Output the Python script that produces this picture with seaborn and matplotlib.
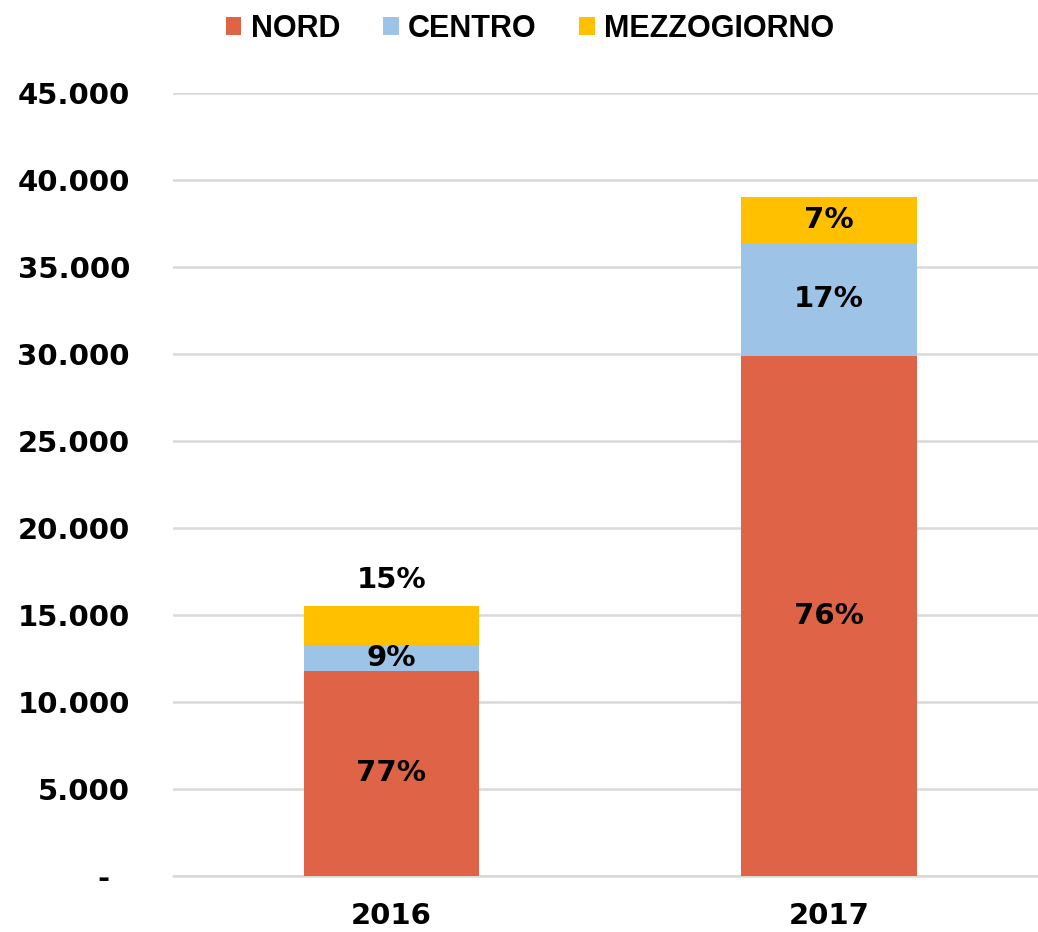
import matplotlib
matplotlib.use("Agg")
import matplotlib.pyplot as plt
import seaborn as sns
import pandas as pd
import numpy as np
from matplotlib.patches import Patch

years = ["2016", "2017"]
nord = [11800, 29900]
centro = [1400, 6500]
mezzogiorno = [2300, 2650]
series_names = ["NORD", "CENTRO", "MEZZOGIORNO"]
nord_labels = ["77%", "76%"]
centro_labels = ["9%", "17%"]
mezz_labels = ["15%", "7%"]
yticks = [0, 5000, 10000, 15000, 20000, 25000, 30000, 35000, 40000, 45000]
ytick_labels = ["-  ", "5.000", "10.000", "15.000", "20.000", "25.000",
                "30.000", "35.000", "40.000", "45.000"]

colors = {"NORD": "#DF6447", "CENTRO": "#9DC3E6", "MEZZOGIORNO": "#FFC000"}

sns.set_theme(style="white")
plt.rcParams['font.family'] = ['DejaVu Sans']
plt.rcParams['text.color'] = 'black'

fig = plt.figure(figsize=(10.38, 9.32), dpi=100)
ax = fig.add_axes([173/1038, 56/932, 1 - 173/1038, (876-93)/932])

n = np.array(nord); c = np.array(centro); m = np.array(mezzogiorno)
df = pd.DataFrame({"year": years, "NORD": n, "NC": n + c, "TOT": n + c + m})

for col, name in [("TOT", "MEZZOGIORNO"), ("NC", "CENTRO"), ("NORD", "NORD")]:
    sns.barplot(data=df, x="year", y=col, color=colors[name], width=0.4,
                saturation=1, ax=ax, zorder=3, linewidth=0)

ax.set_ylim(0, 45000)
ax.set_xlim(-0.498, 1.477)
ax.set_yticks(yticks)
ax.set_yticklabels(ytick_labels)
ax.yaxis.grid(True, color="#D9D9D9", linewidth=1.8, zorder=0)
ax.axhline(0, color="#D9D9D9", linewidth=1.8, zorder=1, clip_on=False)
ax.set_axisbelow(True)
for s in ax.spines.values():
    s.set_visible(False)
ax.tick_params(axis="y", length=0, pad=31, labelsize=21)
ax.tick_params(axis="x", length=0, pad=19, labelsize=21)
for lbl in ax.get_yticklabels() + ax.get_xticklabels():
    lbl.set_fontweight("bold")
    lbl.set_color("black")
ax.set_xlabel("")
ax.set_ylabel("")

tfont = dict(fontsize=21, fontweight="bold", color="black", ha="center", va="center", zorder=5)
for i in range(len(years)):
    ax.text(i, n[i] / 2, nord_labels[i], **tfont)
    ax.text(i, n[i] + c[i] / 2, centro_labels[i], **tfont)
    top = n[i] + c[i] + m[i]
    if m[i] / top < 0.1:
        ax.text(i, n[i] + c[i] + m[i] / 2, mezz_labels[i], **tfont)
    else:
        ax.text(i, top + 1500, mezz_labels[i], **tfont)

handles = [Patch(facecolor=colors[s], edgecolor="none", label=s) for s in series_names]
leg = fig.legend(handles=handles, loc="center", bbox_to_anchor=(530/1038, 1 - 29/932),
                 ncol=3, frameon=False, handlelength=0.52, handleheight=0.52,
                 handletextpad=0.3, columnspacing=1.4, borderpad=0, labelcolor="black",
                 prop={"family": "Liberation Sans", "weight": "bold", "size": 22})

fig.savefig("out.png", dpi=100)
